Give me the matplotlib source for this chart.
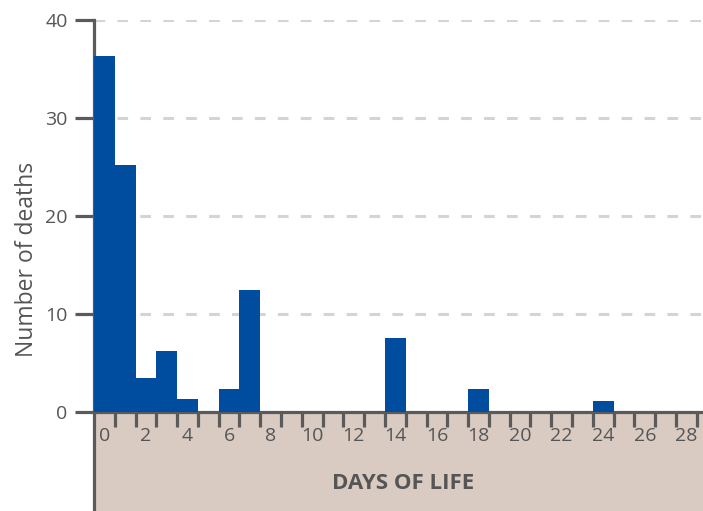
import matplotlib.pyplot as plt
from matplotlib.patches import Rectangle
from matplotlib.lines import Line2D

days = list(range(29))
deaths = [36.3, 25.2, 3.5, 6.2, 1.3, 0, 2.3, 12.4, 0, 0, 0, 0, 0, 0,
          7.6, 0, 0, 0, 2.3, 0, 0, 0, 0, 0, 1.1, 0, 0, 0, 0]
y_ticks = [0, 10, 20, 30, 40]
x_labels = [str(d) for d in range(0, 29, 2)]

plt.rcParams['font.family'] = ['Open Sans', 'DejaVu Sans']
grey = '#5a5a5a'
text_grey = '#555555'

W, H = 703, 511
fig = plt.figure(figsize=(W / 100, H / 100), dpi=100)

left, right, top, base = 94, 703, 20, 412
ax = fig.add_axes([left / W, (H - base) / H, (right - left) / W, (base - top) / H])
ax.patch.set_alpha(0)

# beige band below the axis
fig.patches.append(Rectangle((left / W, 0), (right - left) / W, (H - base) / H,
                             transform=fig.transFigure, color='#d9cbc2', zorder=-2))
fig.lines.append(Line2D([left / W, left / W], [0, (H - base) / H],
                        transform=fig.transFigure, color=grey, lw=2.3, zorder=-1))

ax.bar([d + 0.5 for d in days], deaths, width=1.0, color='#004c9e', zorder=3)

ax.set_xlim(0, 29.3)
ax.set_ylim(0, 40)

ax.set_yticks(y_ticks)
ax.set_yticklabels([str(v) for v in y_ticks], fontsize=14, color=text_grey)
ax.tick_params(axis='y', length=14, width=2.3, color=grey, pad=5)
ax.yaxis.grid(True, color='#d4d4d4', linestyle=(0, (3.5, 4)), lw=2.2, zorder=0)

ax.set_xticks(range(1, 30))
ax.set_xticklabels([])
ax.tick_params(axis='x', which='major', direction='out', length=11, width=2.3, color=grey)
ax.set_xticks([d + 0.5 for d in range(0, 29, 2)], minor=True)
ax.set_xticklabels(x_labels, minor=True, fontsize=14, color=text_grey)
ax.tick_params(axis='x', which='minor', length=0, pad=11)

for s in ['top', 'right']:
    ax.spines[s].set_visible(False)
ax.spines['left'].set_color(grey)
ax.spines['left'].set_linewidth(2.3)
ax.spines['bottom'].set_color(grey)
ax.spines['bottom'].set_linewidth(2.3)
ax.set_axisbelow(True)

ax.set_ylabel('Number of deaths', fontsize=16.5, color=text_grey)
ax.yaxis.set_label_coords(-0.09, 0.39)
fig.text(403 / W, 1 - 483 / H, 'DAYS OF LIFE', fontsize=16, fontweight='bold',
         color=text_grey, ha='center', va='center')

fig.savefig('out.png', dpi=100)
